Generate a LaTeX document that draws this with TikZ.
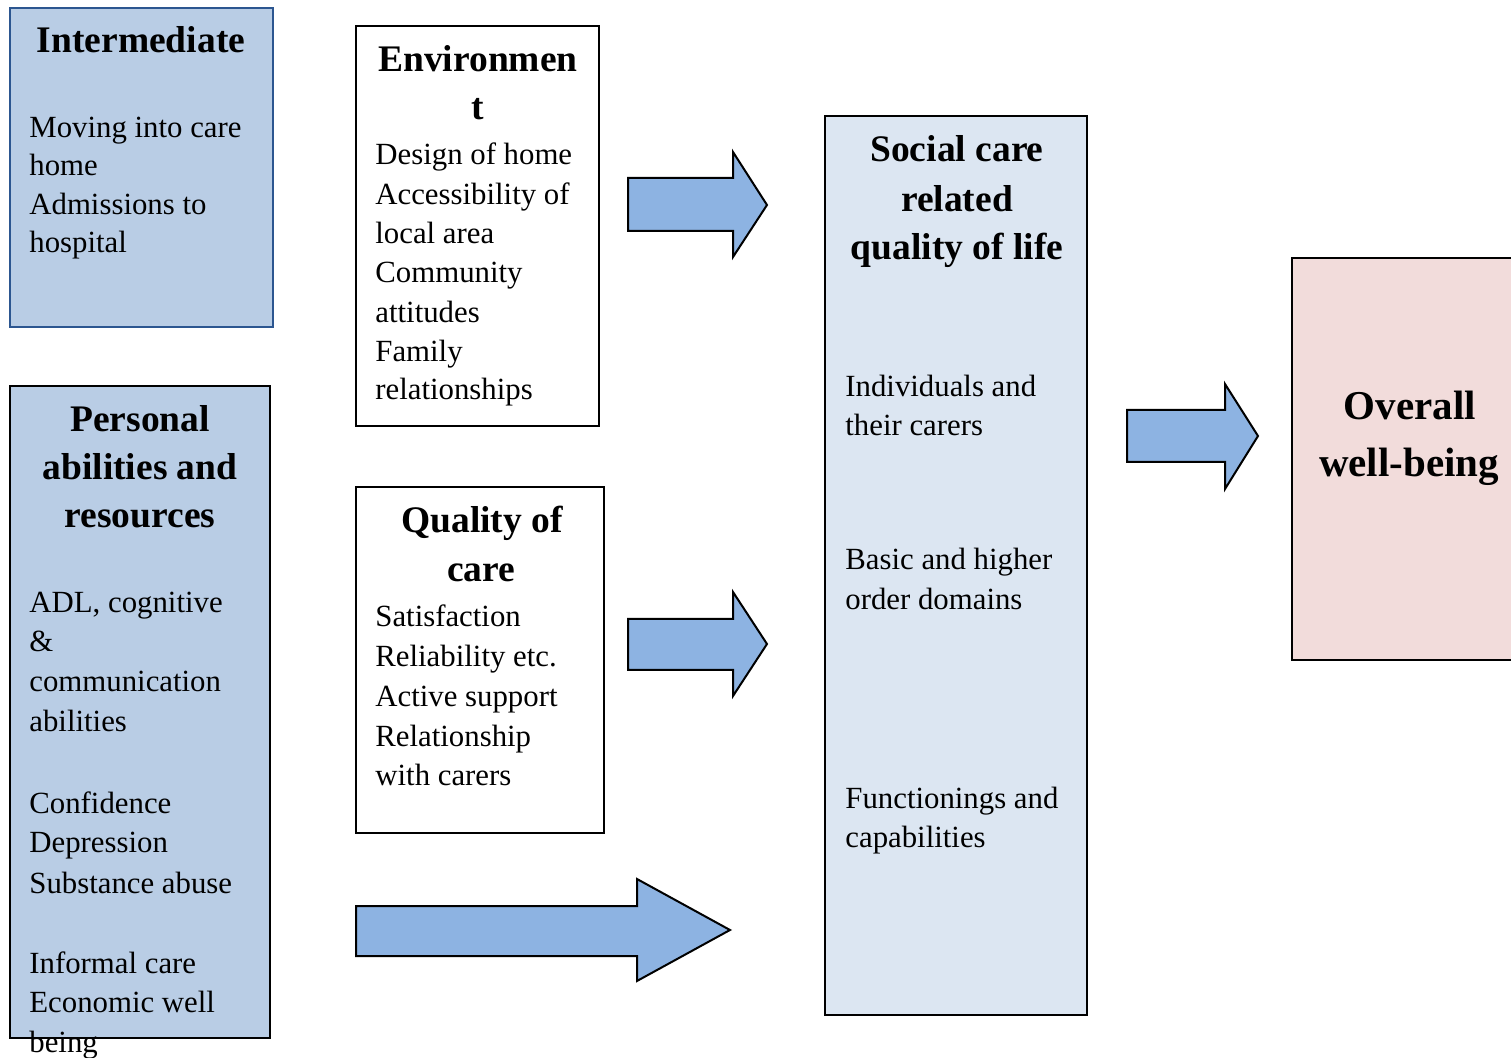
\documentclass[tikz,border=0pt]{standalone}
\usepackage{fontspec}
\setmainfont{Liberation Serif}
\usetikzlibrary{fit}
\definecolor{boxblue}{HTML}{B9CDE5}
\definecolor{boxedge}{HTML}{2C5690}
\definecolor{paleblue}{HTML}{DCE6F2}
\definecolor{palepink}{HTML}{F2DCDB}
\definecolor{arrowblue}{HTML}{8DB3E2}
\begin{document}
\begin{tikzpicture}[x=0.5pt,y=-0.5pt,
  panel/.style={draw=black, line width=1pt, inner sep=0pt},
  head/.style={font=\fontsize{18.75pt}{24pt}\bfseries\selectfont, inner sep=0pt, anchor=base},
  bighead/.style={font=\fontsize{20.5pt}{26pt}\bfseries\selectfont, inner sep=0pt, anchor=base},
  body/.style={font=\fontsize{15.4pt}{20pt}\selectfont, inner sep=0pt, anchor=base west},
  bigarrow/.style={fill=arrowblue, draw=black, line width=1pt, line join=miter}]
\clip (0,0) rectangle (1511,1058);
\fill[white] (0,0) rectangle (1511,1058);

% boxes
\node[panel, fill=boxblue, draw=boxedge, line width=1.3pt, fit={(10,8) (273,327)}] (inter) {};
\node[panel, fill=boxblue, fit={(10,386) (270,1038)}] (pers) {};
\node[panel, fill=white, fit={(356,26) (599,426)}] (env) {};
\node[panel, fill=white, fit={(356,487) (604,833)}] (qoc) {};
\node[panel, fill=paleblue, line width=1.3pt, fit={(825,116) (1087,1015)}] (scr) {};
\node[panel, fill=palepink, fit={(1292,258) (1540,660)}] (wb) {};

% block arrows
\draw[bigarrow] (628,178) -- (733,178) -- (733,152) -- (767,205) -- (733,257) -- (733,231) -- (628,231) -- cycle;
\draw[bigarrow] (628,619) -- (733,619) -- (733,592) -- (767,644) -- (733,696) -- (733,670) -- (628,670) -- cycle;
\draw[bigarrow] (356,906) -- (637,906) -- (637,879) -- (730,930) -- (637,981) -- (637,956) -- (356,956) -- cycle;
\draw[bigarrow] (1127,410) -- (1225,410) -- (1225,384) -- (1258,436) -- (1225,489) -- (1225,462) -- (1127,462) -- cycle;

% headings
\node[head] (inter-h) at (141,53) {Intermediate};
\node[head] (env-h1) at (478,72) {Environmen};
\node[head] (env-h2) at (478,120) {t};
\node[head] (pers-h1) at (140,432) {Personal};
\node[head] (pers-h2) at (140,480) {abilities and};
\node[head] (pers-h3) at (140,528) {resources};
\node[head] (qoc-h1) at (482,533) {Quality of};
\node[head] (qoc-h2) at (481,582) {care};
\node[head] (scr-h1) at (957,162) {Social care};
\node[head] (scr-h2) at (957,212) {related};
\node[head] (scr-h3) at (957,260) {quality of life};
\node[bighead] (wb-h1) at (1410,420) {Overall};
\node[bighead] (wb-h2) at (1409,477) {well-being};

% body lines
\foreach \t/\y [count=\i] in {Moving into care/138, home/176, Admissions to/215, hospital/253}
  \node[body] (inter-\i) at (29,\y) {\t};
\foreach \t/\y [count=\i] in {Design of home/165, Accessibility of/205, local area/244, Community/283, attitudes/323, Family/362, relationships/400}
  \node[body] (env-\i) at (375,\y) {\t};
\foreach \t/\y [count=\i] in {ADL{,} cognitive/613, \&/652, communication/692, abilities/732, Confidence/813, Depression/853, Substance abuse/893, Informal care/973, Economic well/1012, being/1052}
  \node[body] (pers-\i) at (29,\y) {\t};
\foreach \t/\y [count=\i] in {Satisfaction/627, Reliability etc./667, Active support/707, Relationship/747, with carers/786}
  \node[body] (qoc-\i) at (375,\y) {\t};
\foreach \t/\y [count=\i] in {Individuals and/397, their carers/436, Basic and higher/570, order domains/610, Functionings and/809, capabilities/848}
  \node[body] (scr-\i) at (845,\y) {\t};
\end{tikzpicture}
\end{document}
